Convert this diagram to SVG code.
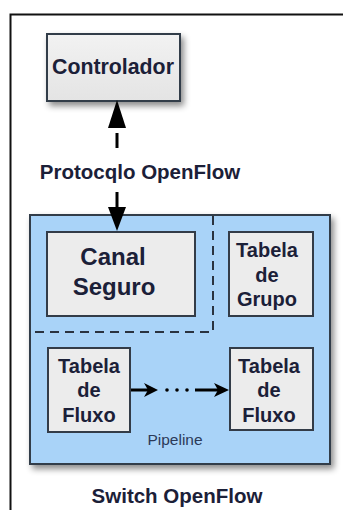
<svg xmlns="http://www.w3.org/2000/svg" width="343" height="510" viewBox="0 0 343 510">
<defs>
<style>
.box{fill:#ececec;stroke:#333c48;stroke-width:2}
.t{font-family:"Liberation Sans",Arial,sans-serif;font-weight:bold;fill:#1b2038;text-anchor:middle}
.frame{stroke:#111;stroke-width:2;fill:none}
.dash{stroke:#2a3340;stroke-width:2;stroke-dasharray:9 6;fill:none}
.conn{stroke:#000;stroke-width:3;fill:none}
.head{fill:#000}
</style>
<linearGradient id="g" x1="0" y1="0" x2="0" y2="1">
<stop offset="0" stop-color="#f2f2f2"/>
<stop offset="1" stop-color="#e4e4e4"/>
</linearGradient>
<filter id="sh" x="-20%" y="-20%" width="150%" height="150%">
<feDropShadow dx="3" dy="4" stdDeviation="3" flood-color="#000" flood-opacity="0.45"/>
</filter>
</defs>
<rect width="343" height="510" fill="#fff"/>
<path class="frame" d="M10.5 510 V14.5 H343"/>

<g id="controlador">
<rect x="47" y="34" width="133" height="67" class="box" style="fill:url(#g)" filter="url(#sh)"/>
<text x="113" y="74" class="t" font-size="21.3">Controlador</text>
</g>

<g id="switch">
<rect x="30" y="215" width="300" height="249" fill="#a9d3f8" stroke="#333c48" stroke-width="2" filter="url(#sh)"/>
<path class="dash" d="M213 216 V332 H31"/>
<text x="175" y="445" font-family="Liberation Sans,Arial,sans-serif" font-size="15.5" fill="#2c3a58" text-anchor="middle">Pipeline</text>
</g>

<g id="canal">
<rect x="47" y="232" width="148" height="84" class="box"/>
<text x="113" y="265" class="t" font-size="24">Canal</text>
<text x="114" y="295" class="t" font-size="24">Seguro</text>
</g>

<g id="grupo">
<rect x="229" y="232" width="84" height="84" class="box"/>
<text x="267" y="257" class="t" font-size="20">Tabela</text>
<text x="267" y="282" class="t" font-size="20">de</text>
<text x="267" y="306" class="t" font-size="20">Grupo</text>
</g>

<g id="fluxo1">
<rect x="48" y="348" width="82" height="84" class="box"/>
<text x="89" y="373" class="t" font-size="20">Tabela</text>
<text x="89" y="397" class="t" font-size="20">de</text>
<text x="89" y="422" class="t" font-size="20">Fluxo</text>
</g>

<g id="fluxo2">
<rect x="230" y="348" width="83" height="82" class="box"/>
<text x="269" y="373" class="t" font-size="20">Tabela</text>
<text x="269" y="397" class="t" font-size="20">de</text>
<text x="269" y="422" class="t" font-size="20">Fluxo</text>
</g>

<g id="labels">
<text x="140" y="179" class="t" font-size="20.5">Protocqlo OpenFlow</text>
<text x="177" y="503" class="t" font-size="20.5">Switch OpenFlow</text>
</g>

<g id="connectors">
<line x1="117" y1="133" x2="117" y2="148" class="conn"/>
<polygon class="head" points="117,100 126,128 108,128"/>
<line x1="117" y1="192" x2="117" y2="210" class="conn"/>
<polygon class="head" points="117,231 108,207 126,207"/>
<line x1="131" y1="390" x2="152" y2="390" class="conn" stroke-width="2.5"/>
<polygon class="head" points="158,390 144,383 148,390 144,397"/>
<circle cx="167" cy="390" r="1.8" class="head"/>
<circle cx="177" cy="390" r="1.8" class="head"/>
<circle cx="187" cy="390" r="1.8" class="head"/>
<line x1="195" y1="390" x2="222" y2="390" class="conn" stroke-width="2.5"/>
<polygon class="head" points="229,390 214,383 218,390 214,397"/>
</g>
</svg>
